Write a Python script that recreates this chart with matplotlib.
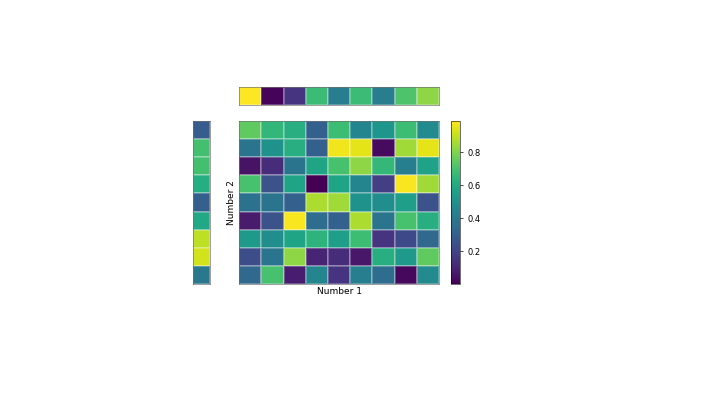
import numpy as np
import matplotlib
matplotlib.use('Agg')
import matplotlib.pyplot as plt

# main 9x9 grid, read top row first
grid = [
    [0.75, 0.65, 0.62, 0.30, 0.68, 0.45, 0.52, 0.68, 0.47],
    [0.38, 0.50, 0.62, 0.30, 0.97, 0.95, 0.03, 0.85, 0.95],
    [0.05, 0.12, 0.38, 0.58, 0.70, 0.82, 0.66, 0.42, 0.57],
    [0.70, 0.25, 0.58, 0.00, 0.58, 0.45, 0.18, 0.98, 0.85],
    [0.37, 0.38, 0.30, 0.87, 0.85, 0.50, 0.48, 0.55, 0.25],
    [0.07, 0.25, 0.98, 0.35, 0.30, 0.87, 0.38, 0.70, 0.62],
    [0.53, 0.48, 0.58, 0.64, 0.55, 0.68, 0.15, 0.22, 0.33],
    [0.23, 0.38, 0.82, 0.10, 0.12, 0.06, 0.62, 0.53, 0.75],
    [0.33, 0.70, 0.08, 0.45, 0.15, 0.42, 0.35, 0.02, 0.47],
]
top_bar = [1.00, 0.01, 0.15, 0.68, 0.42, 0.68, 0.42, 0.72, 0.83]
left_bar = [0.29, 0.70, 0.70, 0.62, 0.30, 0.60, 0.90, 0.93, 0.40]

cmap = 'viridis'
EDGE = dict(edgecolors=(1, 1, 1, 0.25), linewidth=0.3)


def main():
    fig = plt.figure(figsize=(7.2, 4.05), dpi=100)

    ax = fig.add_axes([0.332, 0.299, 0.278, 0.402])
    ax_top = fig.add_axes([0.332, 0.741, 0.278, 0.044])
    ax_left = fig.add_axes([0.268, 0.299, 0.0236, 0.402])
    cax = fig.add_axes([0.626, 0.299, 0.0125, 0.402])

    data = np.array(grid)
    mesh = ax.pcolormesh(data, cmap=cmap, vmin=0.0, vmax=0.99, **EDGE)
    ax.invert_yaxis()
    ax.set_xticks([])
    ax.set_yticks([])
    ax.set_xlabel('Number 1', fontsize=6.5, labelpad=2)
    ax.set_ylabel('Number 2', fontsize=6.5, labelpad=2)

    ax_top.pcolormesh(np.array(top_bar)[None, :], cmap=cmap,
                      vmin=0.0, vmax=1.0, **EDGE)
    ax_top.set_xticks([])
    ax_top.set_yticks([])

    ax_left.pcolormesh(np.array(left_bar)[:, None], cmap=cmap,
                       vmin=0.0, vmax=1.0, **EDGE)
    ax_left.invert_yaxis()
    ax_left.set_xticks([])
    ax_left.set_yticks([])

    cb = fig.colorbar(mesh, cax=cax)
    cb.set_ticks([0.2, 0.4, 0.6, 0.8])
    cb.ax.tick_params(labelsize=6, length=2, width=0.5)
    cb.outline.set_linewidth(0.4)

    for a in (ax, ax_top, ax_left):
        for s in a.spines.values():
            s.set_linewidth(0.4)
            s.set_color('#555555')

    fig.savefig('out.png', dpi=100)


if __name__ == "__main__":
    main()
